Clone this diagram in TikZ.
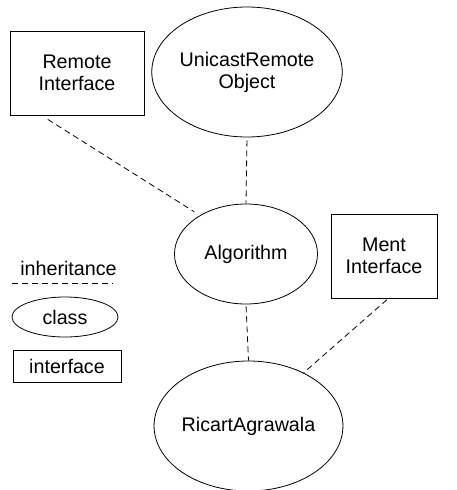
\documentclass[tikz,border=0pt]{standalone}
\usepackage{fontspec}
\setmainfont{Liberation Sans}
\usepackage{tikz}
\usetikzlibrary{shapes.geometric}

\tikzset{
  cls/.style={draw, ellipse, inner sep=0pt, align=center},
  iface/.style={draw, rectangle, inner sep=0pt, align=center},
  inherit/.style={dashed, dash pattern=on 6pt off 4pt}
}

\begin{document}
\begin{tikzpicture}[x=1pt, y=-1pt, line width=0.8pt,
    font=\fontsize{19.7}{22}\selectfont]
%	\draw [help lines] (0,0) grid (457,490);
	\useasboundingbox (0,0) rectangle (457,490);
	% classes and interfaces
	\node [iface, minimum width=134pt, minimum height=84pt] (ri) at (77,73) {Remote\\Interface};
	\node [cls, minimum width=186pt, minimum height=130pt] (uro) at (247,72) {UnicastRemote\\Object};
	\node [cls, minimum width=143pt, minimum height=100pt] (alg) at (246,254) {Algorithm};
	\node [iface, minimum width=106pt, minimum height=84pt] (mi) at (384,256) {Ment\\Interface};
	\node [cls, minimum width=185pt, minimum height=130pt] (ra) at (248.5,426) {RicartAgrawala};
	% inheritance
	\draw [inherit, shorten <=7.5pt, shorten >=6.7pt] (ri.-130.6) -- (alg.140);
	\draw [inherit, shorten <=3pt] (uro.south) -- (alg.north);
	\draw [inherit, shorten <=2pt] (alg.south) -- (ra.north);
	\draw [inherit, shorten <=2pt] (mi.-84.6) -- (ra.44.7);
	% legend
	\node (inh) at (68.5,268) {inheritance};
	\coordinate (l1) at (12,283);
	\coordinate (l2) at (113,283);
	\draw [inherit] (l1) -- (l2);
	\node [cls, minimum width=106pt, minimum height=40pt] (lcls) at (65,317) {class};
	\node [iface, minimum width=108pt, minimum height=32pt] (lif) at (67,366) {interface};
\end{tikzpicture}
\end{document}
